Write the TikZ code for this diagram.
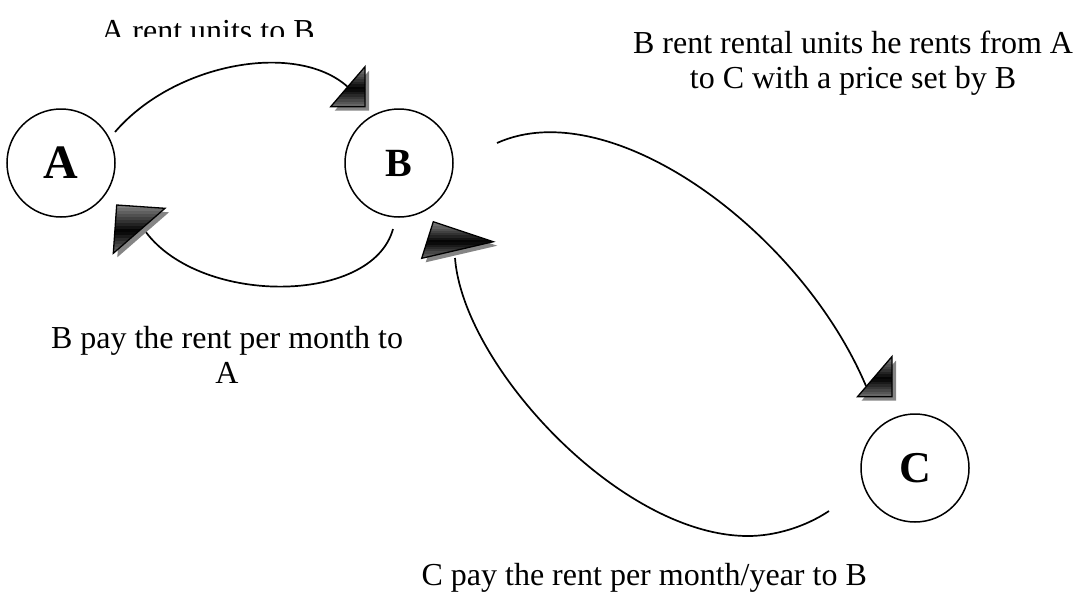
\documentclass[tikz,border=0pt]{standalone}
\usepackage{fontspec}
\setmainfont{Liberation Serif}
\usepackage{tikz}
\usetikzlibrary{calc}

\tikzset{
  party/.style={draw,circle,line width=1.5pt,minimum size=108pt,inner sep=0pt},
  flow/.style={line width=1.7pt},
  wedge/.style={draw,line width=1.3pt,line join=miter},
  wedgeshadow/.style={fill=black!48},
  note/.style={font=\fontsize{32}{35}\selectfont,align=center,inner sep=0pt}
}

\begin{document}
\begin{tikzpicture}[x=1pt,y=-1pt]
\useasboundingbox (0,0) rectangle (1075,592);
% the three parties
\node[party,font=\fontsize{48}{48}\selectfont\bfseries] (A) at (61,163) {A};
\node[party,font=\fontsize{40}{40}\selectfont\bfseries] (B) at (399,163) {B};
\node[party,font=\fontsize{44}{44}\selectfont\bfseries] (C) at (915,468) {C};
% ends of the curved flows
\coordinate (ab0) at (115,132);  \coordinate (ab1) at (350,89);
\coordinate (ba0) at (393,229);  \coordinate (ba1) at (143,228);
\coordinate (bc0) at (497,143);  \coordinate (bc1) at (866,386);
\coordinate (cb0) at (829,511);  \coordinate (cbm) at (748,536); \coordinate (cb1) at (455,258);
\draw[flow] (ab0) .. controls (175,62) and (300,40) .. (ab1);
\draw[flow] (ba0) .. controls (372,306) and (195,306) .. (ba1);
\draw[flow] (bc0) .. controls (610,92) and (800,230) .. (bc1);
\draw[flow] (cb0) .. controls (805,527) and (775,536) .. (cbm)
                  .. controls (620,536) and (463,365) .. (cb1);
% arrow heads: shadow, banded grey-black-grey fill, outline
\foreach \p/\q/\r/\ya/\yb in {{330.7,106.7}/{365,66.7}/{365,106.7}/66.7/106.7,
                      {116.7,205}/{165,208.3}/{113.3,253.3}/205/253.3,
                      {421.7,258.3}/{433.3,221.7}/{493.3,241.7}/221.7/258.3,
                      {857.5,396.7}/{892,356.5}/{892,396.7}/356.5/396.7}
{
  \fill[wedgeshadow,shift={(4,4)}] (\p) -- (\q) -- (\r) -- cycle;
  \begin{scope}
    \clip (\p) -- (\q) -- (\r) -- cycle;
    \foreach \k in {0,...,15}{
      \pgfmathsetmacro\g{100-95*abs((\k+0.5)/16-0.55)}
      \pgfmathsetmacro\yl{\ya+(\yb-\ya)*\k/16}
      \pgfmathsetmacro\yh{\ya+(\yb-\ya)*(\k+1.2)/16}
      \fill[black!\g] (0,\yl) rectangle (1075,\yh);
    }
  \end{scope}
  \path[wedge] (\p) -- (\q) -- (\r) -- cycle;
}
% labels
\begin{scope}
\clip (0,0) rectangle (1075,36.5);
\node[note,anchor=base] (lab) at (208,41) {A rent units to B};
\end{scope}
\node[note,anchor=base] (lbc) at (853,88) {B rent rental units he rents from A\\to C with a price set by B};
\node[note,anchor=base] (lba) at (227,383) {B pay the rent per month to\\A};
\node[note,anchor=base east] (lcb) at (867,585) {C pay the rent per month/year to B};
\end{tikzpicture}
\end{document}
